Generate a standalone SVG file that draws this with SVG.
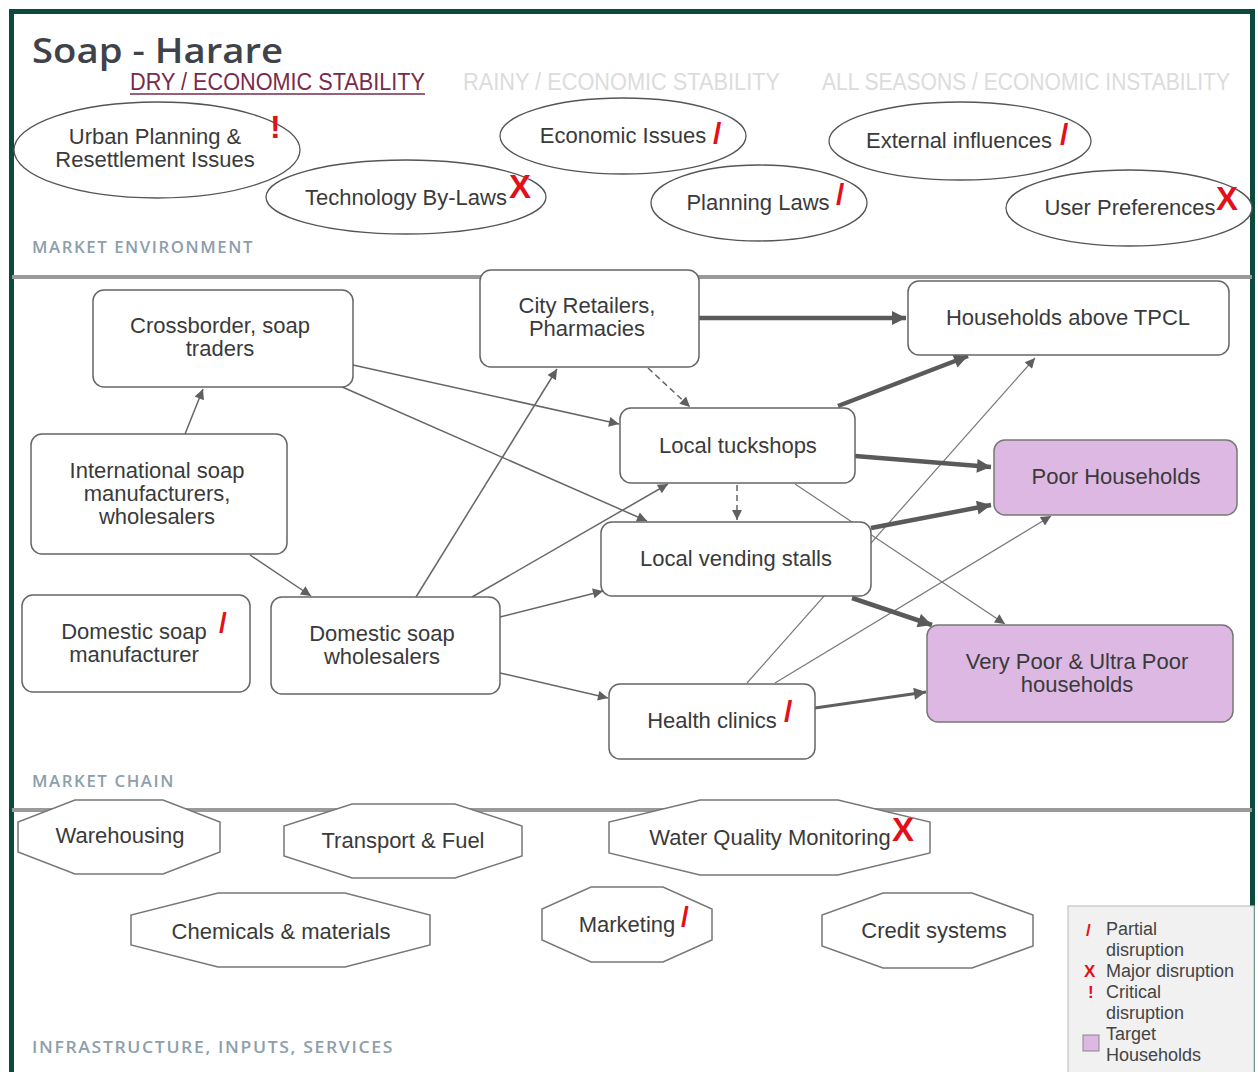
<svg xmlns="http://www.w3.org/2000/svg" width="1258" height="1072" viewBox="0 0 1258 1072">
<defs>
<style>
.t{font-family:"Liberation Sans",Arial,sans-serif;font-size:22px;fill:#3a3a3a;text-anchor:middle}
.lg{font-family:"Liberation Sans",Arial,sans-serif;font-size:18px;fill:#444}
.hd{font-family:"Liberation Sans",Arial,sans-serif;font-size:23px}
.sec{font-family:"Open Sans","DejaVu Sans",sans-serif;font-size:16px;font-weight:600;fill:#8d9eac;letter-spacing:1.5px}
.red{font-family:"Liberation Sans",Arial,sans-serif;font-weight:bold;fill:#e3101a}
.ell{fill:#fff;stroke:#555;stroke-width:1.3}
.box{fill:#fff;stroke:#666;stroke-width:1.5}
.tgt{fill:#dcb8e3;stroke:#777;stroke-width:1.5}
.oct{fill:#fff;stroke:#777;stroke-width:1.5}
.c{stroke:#666;stroke-width:1.5;fill:none;marker-end:url(#ah)}
.cn{stroke:#777;stroke-width:1.2;fill:none;marker-end:url(#ah)}
.cd{stroke:#666;stroke-width:1.5;fill:none;stroke-dasharray:6 4;marker-end:url(#ah)}
.ck{stroke:#5a5a5a;stroke-width:4.5;fill:none;marker-end:url(#ahk)}
.cm{stroke:#5f5f5f;stroke-width:3;fill:none;marker-end:url(#ahm)}
</style>
<marker id="ah" viewBox="0 0 10 10" refX="10" refY="5" markerWidth="13" markerHeight="10" markerUnits="userSpaceOnUse" orient="auto"><path d="M0,0 L10,5 L0,10 z" fill="#5f5f5f"/></marker>
<marker id="ahm" viewBox="0 0 10 10" refX="10" refY="5" markerWidth="15" markerHeight="12" markerUnits="userSpaceOnUse" orient="auto"><path d="M0,0 L10,5 L0,10 z" fill="#5f5f5f"/></marker>
<marker id="ahk" viewBox="0 0 10 10" refX="10" refY="5" markerWidth="17" markerHeight="14" markerUnits="userSpaceOnUse" orient="auto"><path d="M0,0 L10,5 L0,10 z" fill="#5a5a5a"/></marker>
</defs>
<rect x="0" y="0" width="1258" height="1072" fill="#fff"/>
<rect x="11.5" y="11.5" width="1241" height="1100" fill="#fff" stroke="#0b4a3d" stroke-width="5"/>

<!-- header -->
<text x="32" y="63" font-family="'Open Sans','DejaVu Sans',sans-serif" font-size="35" font-weight="600" fill="#3d4349" textLength="251" lengthAdjust="spacingAndGlyphs">Soap - Harare</text>
<text class="hd" x="130" y="90" fill="#7a2a4a" textLength="295" lengthAdjust="spacingAndGlyphs">DRY / ECONOMIC STABILITY</text>
<line x1="130" y1="94" x2="425" y2="94" stroke="#7a2a4a" stroke-width="1.5"/>
<text class="hd" x="463" y="90" fill="#dcdcdc" textLength="317" lengthAdjust="spacingAndGlyphs">RAINY / ECONOMIC STABILITY</text>
<text class="hd" x="822" y="90" fill="#dcdcdc" textLength="408" lengthAdjust="spacingAndGlyphs">ALL SEASONS / ECONOMIC INSTABILITY</text>

<!-- section dividers and labels -->
<line x1="12" y1="277" x2="1252" y2="277" stroke="#9a9a9a" stroke-width="4"/>
<line x1="12" y1="810" x2="1252" y2="810" stroke="#9a9a9a" stroke-width="4"/>
<text class="sec" x="32" y="253" textLength="222" lengthAdjust="spacingAndGlyphs">MARKET ENVIRONMENT</text>
<text class="sec" x="32" y="787" textLength="143" lengthAdjust="spacingAndGlyphs">MARKET CHAIN</text>
<text class="sec" x="32" y="1053" textLength="362" lengthAdjust="spacingAndGlyphs">INFRASTRUCTURE, INPUTS, SERVICES</text>

<!-- market environment -->
<g id="env-urban"><ellipse class="ell" cx="157" cy="150" rx="143" ry="48"/><text class="t" x="155" y="144" font-size="21">Urban Planning &amp;</text><text class="t" x="155" y="167" font-size="21">Resettlement Issues</text><text class="red" x="270" y="138" font-size="32">!</text></g>
<g id="env-tech"><ellipse class="ell" cx="406" cy="197" rx="140" ry="37"/><text class="t" x="406" y="205">Technology By-Laws</text><text class="red" x="509" y="198" font-size="33">X</text></g>
<g id="env-econ"><ellipse class="ell" cx="623" cy="136" rx="123" ry="38"/><text class="t" x="623" y="143">Economic Issues</text><text class="red" x="713" y="144" font-size="30">/</text></g>
<g id="env-planning"><ellipse class="ell" cx="759" cy="203" rx="108" ry="38"/><text class="t" x="758" y="210">Planning Laws</text><text class="red" x="836" y="205" font-size="30">/</text></g>
<g id="env-external"><ellipse class="ell" cx="960" cy="141" rx="131" ry="39"/><text class="t" x="959" y="148">External influences</text><text class="red" x="1060" y="145" font-size="30">/</text></g>
<g id="env-user"><ellipse class="ell" cx="1129" cy="208" rx="123" ry="38"/><text class="t" x="1130" y="215">User Preferences</text><text class="red" x="1216" y="210" font-size="33">X</text></g>

<!-- connectors -->
<g id="connectors">
<line class="c" x1="185" y1="434" x2="203" y2="389"/>
<line class="c" x1="250" y1="555" x2="311" y2="596"/>
<line class="c" x1="353" y1="365" x2="619" y2="424"/>
<line class="c" x1="340" y1="386" x2="647" y2="521"/>
<line class="c" x1="416" y1="597" x2="557" y2="369"/>
<line class="c" x1="472" y1="597" x2="668" y2="484"/>
<line class="c" x1="500" y1="617" x2="603" y2="591"/>
<line class="c" x1="500" y1="673" x2="608" y2="698"/>
<line class="cd" x1="648" y1="368" x2="690" y2="407"/>
<line class="cd" x1="737" y1="485" x2="737" y2="520"/>
<line class="cn" x1="795" y1="484" x2="1005" y2="624"/>
<line class="cn" x1="747" y1="683" x2="1035" y2="358"/>
<line class="cn" x1="775" y1="683" x2="1051" y2="516"/>
<line class="ck" x1="699" y1="318" x2="906" y2="318"/>
<line class="ck" x1="838" y1="406" x2="968" y2="356"/>
<line class="ck" x1="855" y1="456" x2="991" y2="467"/>
<line class="ck" x1="871" y1="528" x2="991" y2="505"/>
<line class="ck" x1="852" y1="598" x2="932" y2="625"/>
<line class="cm" x1="815" y1="708" x2="926" y2="692"/>
</g>

<!-- market chain nodes -->
<g id="n-crossborder"><rect class="box" x="93" y="290" width="260" height="97" rx="11"/><text class="t" x="220" y="333">Crossborder, soap</text><text class="t" x="220" y="356">traders</text></g>
<g id="n-city"><rect class="box" x="480" y="270" width="219" height="97" rx="11"/><text class="t" x="587" y="313">City Retailers,</text><text class="t" x="587" y="336">Pharmacies</text></g>
<g id="n-above"><rect class="box" x="908" y="281" width="321" height="74" rx="11"/><text class="t" x="1068" y="325">Households above TPCL</text></g>
<g id="n-intl"><rect class="box" x="31" y="434" width="256" height="120" rx="11"/><text class="t" x="157" y="478">International soap</text><text class="t" x="157" y="501">manufacturers,</text><text class="t" x="157" y="524">wholesalers</text></g>
<g id="n-tuck"><rect class="box" x="620" y="408" width="235" height="75" rx="11"/><text class="t" x="738" y="453">Local tuckshops</text></g>
<g id="n-poor"><rect class="tgt" x="994" y="440" width="243" height="75" rx="11"/><text class="t" x="1116" y="484">Poor Households</text></g>
<g id="n-vend"><rect class="box" x="601" y="522" width="270" height="74" rx="11"/><text class="t" x="736" y="566">Local vending stalls</text></g>
<g id="n-dommanu"><rect class="box" x="22" y="595" width="228" height="97" rx="11"/><text class="t" x="134" y="639">Domestic soap</text><text class="t" x="134" y="662">manufacturer</text><text class="red" x="219" y="632" font-size="28">/</text></g>
<g id="n-domwhole"><rect class="box" x="271" y="597" width="229" height="97" rx="11"/><text class="t" x="382" y="641">Domestic soap</text><text class="t" x="382" y="664">wholesalers</text></g>
<g id="n-vpoor"><rect class="tgt" x="927" y="625" width="306" height="97" rx="11"/><text class="t" x="1077" y="669">Very Poor &amp; Ultra Poor</text><text class="t" x="1077" y="692">households</text></g>
<g id="n-health"><rect class="box" x="609" y="684" width="206" height="75" rx="11"/><text class="t" x="712" y="728">Health clinics</text><text class="red" x="784" y="722" font-size="30">/</text></g>

<!-- infrastructure -->
<g id="i-warehousing"><polygon class="oct" points="75,800 163,800 220,822 220,852 163,874 75,874 18,852 18,822"/><text class="t" x="120" y="843">Warehousing</text></g>
<g id="i-transport"><polygon class="oct" points="352,804 455,804 522,826 522,856 455,878 352,878 284,856 284,826"/><text class="t" x="403" y="848">Transport &amp; Fuel</text></g>
<g id="i-water"><polygon class="oct" points="700,800 838,800 930,822 930,853 838,875 700,875 609,853 609,822"/><text class="t" x="770" y="845">Water Quality Monitoring</text><text class="red" x="892" y="841" font-size="33">X</text></g>
<g id="i-chem"><polygon class="oct" points="218,893 345,893 430,915 430,945 345,967 218,967 131,945 131,915"/><text class="t" x="281" y="939">Chemicals &amp; materials</text></g>
<g id="i-marketing"><polygon class="oct" points="591,887 663,887 712,909 712,940 663,962 591,962 542,940 542,909"/><text class="t" x="627" y="932">Marketing</text><text class="red" x="681" y="926" font-size="28">/</text></g>
<g id="i-credit"><polygon class="oct" points="883,893 972,893 1033,915 1033,946 972,968 883,968 822,946 822,915"/><text class="t" x="934" y="938">Credit systems</text></g>

<!-- legend -->
<g id="legend">
<rect x="1068" y="906" width="186" height="175" fill="#f1f1f1" stroke="#c4c4c4" stroke-width="1.2"/>
<text class="red" x="1086" y="936" font-size="17" font-weight="normal">/</text>
<text class="lg" x="1106" y="935">Partial</text>
<text class="lg" x="1106" y="956">disruption</text>
<text class="red" x="1084" y="977" font-size="17">X</text>
<text class="lg" x="1106" y="977">Major disruption</text>
<text class="red" x="1088" y="998" font-size="17">!</text>
<text class="lg" x="1106" y="998">Critical</text>
<text class="lg" x="1106" y="1019">disruption</text>
<rect x="1083" y="1035" width="16" height="16" fill="#dcb8e3" stroke="#888" stroke-width="1"/>
<text class="lg" x="1106" y="1040">Target</text>
<text class="lg" x="1106" y="1061">Households</text>
</g>
</svg>
